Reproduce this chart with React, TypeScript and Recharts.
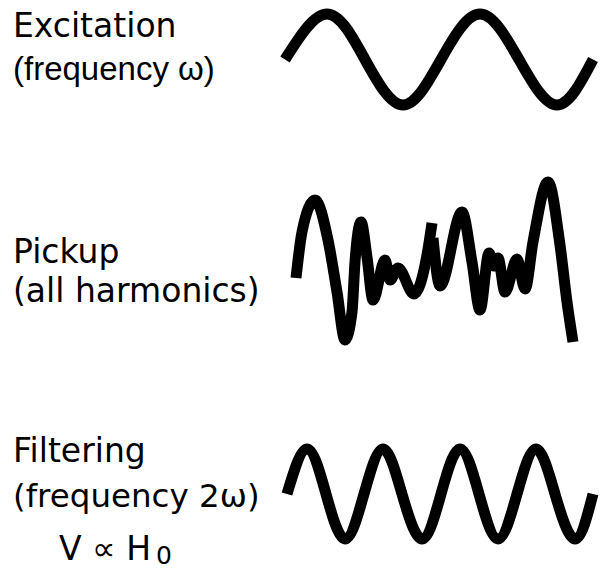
import React from 'react';
import { LineChart, Line, XAxis, YAxis } from 'recharts';

// excitation: time samples read at zero crossings, peaks and troughs
const excitationT = [0, 42, 80, 118, 156, 195, 234, 272, 308];
const excitationV = [0, 1, 0, -1, 0, 1, 0, -1, 0];

// filtered signal at 2w
const filteredT = [0, 20, 39, 58, 77, 96, 115, 135, 154, 173, 192, 211, 230, 249, 268, 288, 306];
const filteredV = [0, 1, 0, -1, 0, 1, 0, -1, 0, 1, 0, -1, 0, 1, 0, -1, 0];

// pickup signal, drawn in two strokes
const pickupT1 = [1, 7, 20, 33, 42, 50, 57, 60, 66, 72, 78, 90, 95, 103, 119, 132, 137];
const pickupV1 = [-16, 30, 62, 22, -30, -78, -50, 0, 40, 5, -38, 2, -18, -6, -32, 7, 39];
const pickupT2 = [138, 145, 167, 177, 185, 194, 199, 203, 210, 222, 230, 238, 253, 265, 272, 278];
const pickupV2 = [24, -24, 50, 0, -48, 9, -4, 4, -30, 3, -27, 20, 80, 17, -40, -80];

const zip = (t: number[], v: number[]) => t.map((x, i) => ({ t: x, v: v[i] }));

const excitation = zip(excitationT, excitationV);
const filtered = zip(filteredT, filteredV);
const pickup1 = zip(pickupT1, pickupV1);
const pickup2 = zip(pickupT2, pickupV2);

const M = 10;
const SW = 11;
const dejavu = "'DejaVu Sans', sans-serif";

function Wave({ left, top, w, h, xMax, yMax, children }: any) {
  return (
    <div style={{ position: 'absolute', left: left - M, top: top - M }}>
      <LineChart width={w + 2 * M} height={h + 2 * M} margin={{ top: M, right: M, bottom: M, left: M }}>
        <XAxis dataKey="t" type="number" domain={[0, xMax]} hide />
        <YAxis type="number" domain={[-yMax, yMax]} hide />
        {children}
      </LineChart>
    </div>
  );
}

export default function App() {
  return (
    <div style={{ position: 'absolute', left: 0, top: 0, width: 601, height: 570, background: '#fff' }}>
      <Wave left={285} top={14} w={308} h={91} xMax={308} yMax={1}>
        <Line data={excitation} dataKey="v" type="natural" stroke="#000" strokeWidth={SW} dot={false} activeDot={false} isAnimationActive={false} />
      </Wave>
      <Wave left={295} top={182} w={280} h={160} xMax={280} yMax={80}>
        <Line data={pickup1} dataKey="v" type="monotone" stroke="#000" strokeWidth={SW} strokeLinejoin="round" dot={false} activeDot={false} isAnimationActive={false} />
        <Line data={pickup2} dataKey="v" type="monotone" stroke="#000" strokeWidth={SW} strokeLinejoin="round" dot={false} activeDot={false} isAnimationActive={false} />
      </Wave>
      <Wave left={287} top={449} w={306} h={90} xMax={306} yMax={1}>
        <Line data={filtered} dataKey="v" type="natural" stroke="#000" strokeWidth={SW} dot={false} activeDot={false} isAnimationActive={false} />
      </Wave>

      <svg width={601} height={570} style={{ position: 'absolute', left: 0, top: 0, pointerEvents: 'none' }}>
        <g fill="#000">
          <text x={13} y={37} fontFamily={dejavu} fontSize={33}>Excitation</text>
          <text x={13} y={80} fontFamily="'Liberation Sans', Arial, sans-serif" fontSize={33}>(frequency ω)</text>
          <text x={13} y={263} fontFamily={dejavu} fontSize={33}>Pickup</text>
          <text x={13} y={302} fontFamily={dejavu} fontSize={33}>(all harmonics)</text>
          <text x={13} y={462} fontFamily={dejavu} fontSize={33}>Filtering</text>
          <text x={13} y={507} fontFamily={dejavu} fontSize={32.5}>(frequency 2ω)</text>
          <text x={59} y={560} fontFamily={dejavu} fontSize={33}>V ∝ H</text>
          <text x={156} y={564} fontFamily={dejavu} fontSize={25}>0</text>
        </g>
      </svg>
    </div>
  );
}
